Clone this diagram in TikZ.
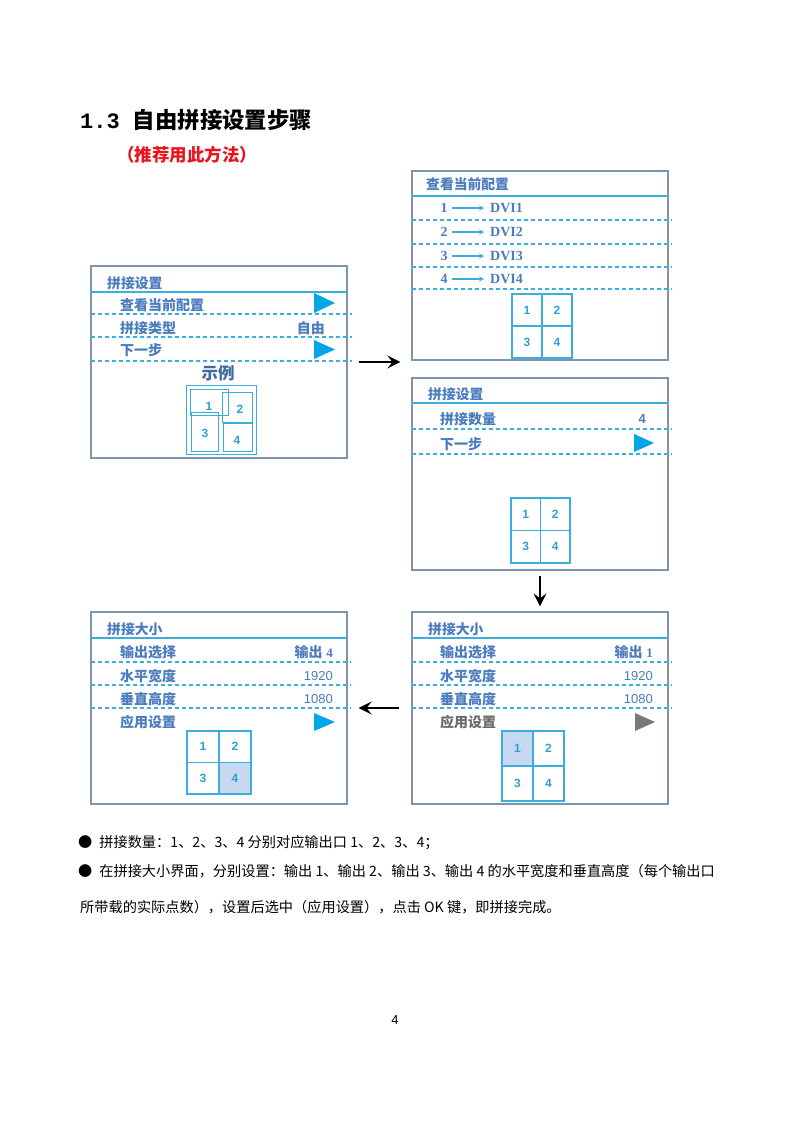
\documentclass[tikz,border=0pt]{standalone}
\usepackage{fontspec}
\setmainfont{Liberation Sans}
\newfontfamily\cjk{Noto Sans CJK SC}
\newfontfamily\monofont{Liberation Mono}
\newfontfamily\seriffont{Liberation Serif}
\usetikzlibrary{arrows.meta}
\definecolor{txtblue}{HTML}{4A7CBE}
\definecolor{lineblue}{HTML}{3AAEDF}
\definecolor{framecol}{HTML}{7D95AD}
\definecolor{tri}{HTML}{00A6E6}
\definecolor{sel}{HTML}{C6D9F0}
\definecolor{numblue}{HTML}{2C9FD9}
\definecolor{grey}{HTML}{6A6A6A}
\definecolor{redtxt}{HTML}{E8141B}
\newcommand\mygrid[5]{%
  \pgfmathsetmacro\gmx{(#1+#3)/2}%
  \pgfmathsetmacro\gmy{(#2+#4)/2}%
  \draw[gridline] (#1,#2) rectangle (#3,#4) (\gmx,#2) -- (\gmx,#4) (#1,\gmy) -- (#3,\gmy);
  \node[cellnum] (#5a) at ({(#1+\gmx)/2},{(#2+\gmy)/2}) {1};
  \node[cellnum] (#5b) at ({(#3+\gmx)/2},{(#2+\gmy)/2}) {2};
  \node[cellnum] (#5c) at ({(#1+\gmx)/2},{(#4+\gmy)/2}) {3};
  \node[cellnum] (#5d) at ({(#3+\gmx)/2},{(#4+\gmy)/2}) {4};
}
\begin{document}
\begin{tikzpicture}[x=1pt,y=-1pt,
  panel/.style={draw=framecol,line width=1.2pt,minimum width=256pt,inner sep=0pt},
  ptitle/.style={anchor=west,inner sep=0pt,text=txtblue,font=\cjk\bfseries\fontsize{13.8}{14}\selectfont},
  prow/.style={anchor=west,inner sep=0pt,text=txtblue,font=\cjk\bfseries\fontsize{14}{14}\selectfont},
  pval/.style={anchor=east,inner sep=0pt,text=txtblue,font=\fontsize{13}{14}\selectfont},
  solidline/.style={lineblue,line width=1.2pt},
  dashline/.style={lineblue,line width=1.2pt,dash pattern=on 4pt off 3pt},
  gridline/.style={lineblue,line width=1.5pt},
  thinbox/.style={lineblue,line width=1pt},
  cellnum/.style={inner sep=0pt,text=numblue,font=\bfseries\fontsize{12}{13}\selectfont},
  flow/.style={black,line width=2pt,-{Stealth[length=13pt,width=13pt,inset=5pt]}},
  btxt/.style={anchor=west,inner sep=0pt,font=\cjk\fontsize{14.2}{15}\selectfont}
]
\useasboundingbox (0,0) rectangle (791,1122);

% title
\node[anchor=west,inner sep=0pt] (title) at (80,120) {{\monofont\bfseries\fontsize{22}{24}\selectfont 1.3}\hspace{13pt}{\cjk\bfseries\fontsize{22.4}{24}\selectfont 自由拼接设置步骤}};
\node[anchor=west,inner sep=0pt,text=redtxt,font=\cjk\bfseries\fontsize{17.5}{18}\selectfont] (sub) at (117,155) {（推荐用此方法）};

% ---------- panel 1
\node[panel,minimum height=192pt] (p1) at (219,362) {};
\node[ptitle] (p1t) at (107,283) {拼接设置};
\draw[solidline] (91,292) -- (347,292);
\node[prow] (p1r1) at (120,305) {查看当前配置};
\draw[dashline] (91,314) -- (352,314);
\node[prow] (p1r2) at (120,328) {拼接类型};
\node[anchor=east,inner sep=0pt,text=txtblue,font=\cjk\bfseries\fontsize{14}{14}\selectfont] (p1v2) at (325,328) {自由};
\draw[dashline] (91,337) -- (352,337);
\node[prow] (p1r3) at (120,350) {下一步};
\draw[dashline] (91,361) -- (352,361);
\fill[tri] (314,293) -- (335,303) -- (314,313) -- cycle;
\fill[tri] (314,340) -- (335,349.5) -- (314,359) -- cycle;
\node[inner sep=0pt,text=txtblue!85!black,font=\cjk\bfseries\fontsize{16.5}{17}\selectfont] (p1ex) at (218,373) {示例};
\draw[thinbox] (186,385) rectangle (256,454);
\draw[thinbox] (190,389) rectangle (228,415);
\draw[thinbox] (222,392) rectangle (252,422);
\draw[thinbox] (191,412) rectangle (218,451);
\draw[thinbox] (223,423) rectangle (252,451);
\node[cellnum] (e1) at (209,406) {1};
\node[cellnum] (e2) at (240,409) {2};
\node[cellnum] (e3) at (205,433) {3};
\node[cellnum] (e4) at (237,440) {4};

% ---------- panel 2
\node[panel,minimum height=189pt] (p2) at (540,265.5) {};
\node[ptitle] (p2t) at (426,184) {查看当前配置};
\draw[solidline] (412,196) -- (668,196);
\foreach \i/\y/\d in {1/208/220, 2/232/244, 3/256/267, 4/279/289}{
  \node[inner sep=0pt,text=txtblue,font=\seriffont\bfseries\fontsize{14}{15}\selectfont] (n\i) at (444,\y) {\i};
  \node[anchor=west,inner sep=0pt,text=txtblue,font=\seriffont\bfseries\fontsize{14}{15}\selectfont] (d\i) at (490,\y) {DVI\i};
  \draw[lineblue,line width=1.2pt,-{Stealth[length=5pt,width=5pt]},shorten <=4pt,shorten >=6pt] (n\i) -- (d\i);
  \draw[dashline] (412,\d) -- (672,\d);
}
\mygrid{512}{294}{572}{358}{g2}

% ---------- panel 3
\node[panel,minimum height=192pt] (p3) at (540,474) {};
\node[ptitle] (p3t) at (428,394) {拼接设置};
\draw[solidline] (412,403) -- (668,403);
\node[prow] (p3r1) at (440,419) {拼接数量};
\node[pval,font=\bfseries\fontsize{13}{14}\selectfont] (p3v1) at (646,419) {4};
\draw[dashline] (412,429) -- (672,429);
\node[prow] (p3r2) at (440,444) {下一步};
\draw[dashline] (412,454) -- (672,454);
\fill[tri] (634,434) -- (654,443) -- (634,452) -- cycle;
\mygrid{511}{498}{570}{563}{g3}

% ---------- panel 4
\node[panel,minimum height=192pt] (p4) at (540,708) {};
\node[ptitle] (p4t) at (428,629) {拼接大小};
\draw[solidline] (412,638) -- (668,638);
\node[prow] (p4r1) at (440,652) {输出选择};
\node[pval] (p4v1) at (653,652) {{\cjk\bfseries\fontsize{14}{14}\selectfont 输出} {\seriffont\bfseries 1}};
\draw[dashline] (412,662) -- (672,662);
\node[prow] (p4r2) at (440,676) {水平宽度};
\node[pval] (p4v2) at (653,676) {1920};
\draw[dashline] (412,685) -- (672,685);
\node[prow] (p4r3) at (440,699) {垂直高度};
\node[pval] (p4v3) at (653,699) {1080};
\draw[dashline] (412,708) -- (672,708);
\node[prow,text=grey] (p4r4) at (440,722) {应用设置};
\fill[grey!90] (635,713) -- (655,722) -- (635,731) -- cycle;
\fill[sel] (502,731) rectangle (533,766);
\mygrid{502}{731}{564}{801}{g4}

% ---------- panel 5
\node[panel,minimum height=192pt] (p5) at (219,708) {};
\node[ptitle] (p5t) at (107,629) {拼接大小};
\draw[solidline] (91,638) -- (347,638);
\node[prow] (p5r1) at (120,652) {输出选择};
\node[pval] (p5v1) at (333,652) {{\cjk\bfseries\fontsize{14}{14}\selectfont 输出} {\seriffont\bfseries 4}};
\draw[dashline] (91,662) -- (351,662);
\node[prow] (p5r2) at (120,676) {水平宽度};
\node[pval] (p5v2) at (333,676) {1920};
\draw[dashline] (91,685) -- (351,685);
\node[prow] (p5r3) at (120,699) {垂直高度};
\node[pval] (p5v3) at (333,699) {1080};
\draw[dashline] (91,708) -- (351,708);
\node[prow] (p5r4) at (120,722) {应用设置};
\fill[tri] (314,713) -- (335,722) -- (314,731) -- cycle;
\fill[sel] (219,763) rectangle (251,794);
\mygrid{187}{731}{251}{794}{g5}

% ---------- arrows
\draw[flow,shorten <=11pt,shorten >=11pt] (p1.east) -- (p1.east -| p2.west);
\draw[flow,shorten <=5pt,shorten >=5pt] (p3.south) -- (p4.north);
\draw[flow,shorten <=12pt,shorten >=11pt] (p4.west) -- (p5.east);

% ---------- bottom text
\node[btxt] (b1) at (78,843) {●\hspace{7pt}拼接数量：1、2、3、4 分别对应输出口 1、2、3、4；};
\node[btxt] (b2) at (78,871) {●\hspace{7pt}在拼接大小界面，分别设置：输出 1、输出 2、输出 3、输出 4 的水平宽度和垂直高度（每个输出口};
\node[btxt] (b3) at (80,907) {所带载的实际点数），设置后选中（应用设置），点击 OK 键，即拼接完成。};
\node[inner sep=0pt,font=\fontsize{13}{14}\selectfont] (pg) at (395,1020) {4};
\end{tikzpicture}
\end{document}
